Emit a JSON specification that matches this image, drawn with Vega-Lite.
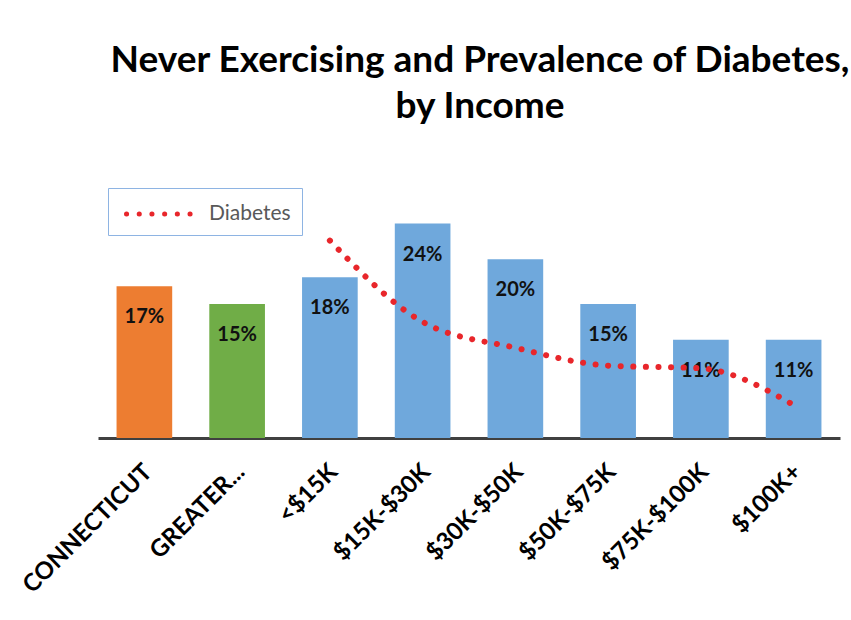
{
  "$schema": "https://vega.github.io/schema/vega-lite/v6.json",
  "width": 742,
  "height": 268,
  "autosize": {"type": "none"},
  "padding": {"left": 98, "top": 170, "right": 11, "bottom": 182},
  "background": "white",
  "config": {"view": {"stroke": null}},
  "title": {
    "text": ["Never Exercising and Prevalence of Diabetes,", "by Income"],
    "font": "Lato",
    "fontSize": 37,
    "fontWeight": "bold",
    "color": "#000000",
    "lineHeight": 46,
    "anchor": "middle",
    "dx": 11,
    "offset": 44
  },
  "data": {
    "values": [
      {"category": "CONNECTICUT", "group": "Connecticut", "never": 0.17, "diabetes": null},
      {"category": "GREATER...", "group": "Greater", "never": 0.15, "diabetes": null},
      {"category": "<$15K", "group": "Income", "never": 0.18, "diabetes": 0.221},
      {"category": "$15K-$30K", "group": "Income", "never": 0.24, "diabetes": 0.130},
      {"category": "$30K-$50K", "group": "Income", "never": 0.20, "diabetes": 0.101},
      {"category": "$50K-$75K", "group": "Income", "never": 0.15, "diabetes": 0.081},
      {"category": "$75K-$100K", "group": "Income", "never": 0.11, "diabetes": 0.078},
      {"category": "$100K+", "group": "Income", "never": 0.11, "diabetes": 0.037}
    ]
  },
  "encoding": {
    "x": {
      "field": "category",
      "type": "nominal",
      "sort": null,
      "scale": {"paddingInner": 0.4, "paddingOuter": 0.2},
      "axis": {
        "title": null,
        "ticks": false,
        "domainColor": "#404040",
        "domainWidth": 3,
        "labelAngle": -45,
        "labelAlign": "right",
        "labelBaseline": "middle",
        "labelFont": "Lato",
        "labelFontSize": 24,
        "labelFontWeight": "bold",
        "labelColor": "#000000",
        "labelPadding": 30,
        "labelOffset": 4,
        "labelLimit": 400,
        "labelOverlap": false
      }
    }
  },
  "layer": [
    {
      "mark": {"type": "bar"},
      "encoding": {
        "y": {"field": "never", "type": "quantitative", "scale": {"domain": [0, 0.3]}, "axis": null},
        "color": {
          "field": "group",
          "type": "nominal",
          "scale": {"domain": ["Connecticut", "Greater", "Income"], "range": ["#ED7D31", "#70AD47", "#6FA8DC"]},
          "legend": null
        }
      }
    },
    {
      "mark": {"type": "text", "font": "Lato", "fontSize": 20, "fontWeight": "bold", "color": "#111111", "baseline": "middle", "dy": 31},
      "encoding": {
        "y": {"field": "never", "type": "quantitative", "scale": {"domain": [0, 0.3]}, "axis": null},
        "text": {"field": "never", "type": "quantitative", "format": ".0%"}
      }
    },
    {
      "transform": [{"filter": "datum.diabetes != null"}],
      "mark": {"type": "line", "interpolate": "monotone", "strokeDash": [0.1, 12.5], "strokeCap": "round", "strokeWidth": 6},
      "encoding": {
        "y": {"field": "diabetes", "type": "quantitative", "scale": {"domain": [0, 0.3]}, "axis": null},
        "color": {
          "datum": "Diabetes",
          "scale": {"range": ["#E8262B"]},
          "legend": {
            "title": null,
            "orient": "none",
            "legendX": 10,
            "legendY": 18,
            "strokeColor": "#8EB4E3",
            "fillColor": "#ffffff",
            "padding": 11,
            "labelFont": "Lato",
            "labelFontSize": 21,
            "labelColor": "#595959",
            "labelOffset": 60,
            "symbolType": "M-0.6,0H5.48",
            "symbolSize": 625,
            "symbolStrokeWidth": 5,
            "symbolDash": [0.1, 12.6],
            "encode": {"symbols": {"update": {"strokeCap": {"value": "round"}}}}
          }
        }
      }
    }
  ],
  "resolve": {"scale": {"color": "independent"}}
}
